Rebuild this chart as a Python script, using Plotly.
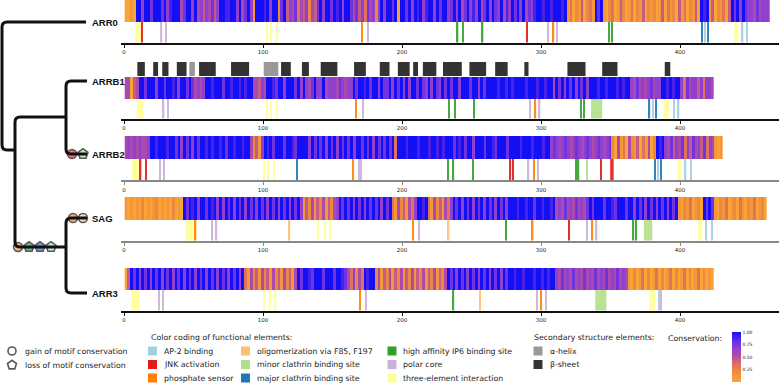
import plotly.graph_objects as go

W, H = 779, 383

# ---------------- data ----------------
rows = ["ARR0", "ARRB1", "ARRB2", "SAG", "ARR3"]

# conservation, one character = 2 residues, '0' -> 0.00 ... '9' -> 1.00
cons_ARR0 = ("0010" "99699799" "97968999579969" "56465746" "998899" "69579619" "9989699279"
             "465735462547" "969979896997" "5746375626" "96997909" "9796989689969799"
             "67969579686957969769586979695768" "99899899989" "1302140231" "979"
             "102301420130214021" "20140312041302140" "989" "14021304" "979697" "66575666")
cons_ARRB1 = ("55045" "99799969979989699797" "5656" "99899979989989899" "55465" "998799699979"
              "696579669" "5666576566" "979989799697" "7969796969979769697697" "9799699979969799"
              "9989989899998999899899" "59796979697969" "99899899989899" "65756567566" "9989899"
              "637566463665")
cons_ARRB2 = ("565656556" "99899989" "9796979697" "998989989799899899" "52416" "989799979987999"
              "9697979697969797969" "979796979797939" "998999899989989899"
              "97989799699979987999799" "9989998999899" "6765676567656765676567"
              "2051305214031502" "989" "657465736475647365" "101")
cons_SAG = ("101010201012010102010" "97989699798969" "69796979697969796979697969796"
            "142514251425" "69797969796979796979" "315241536" "9989" "31524153"
            "697969796979697969796" "99989989979989989" "565756575657" "9799979987999799"
            "6979697969796979" "102130120" "9797" "1021301203102130120")
cons_ARR3 = ("04" "979697969796979697969796979697969796979693" "152415241524152415"
             "979987999799979987" "536253" "9899" "25142514251425142514251425"
             "9796979697969796979697" "99899899989989899" "65756575657565756575657565"
             "1020130201302013020130201302010")
cons = [cons_ARR0, cons_ARRB1, cons_ARRB2, cons_SAG, cons_ARR3]

# functional elements: (residue, width in residues, category)
motif_ARR0 = [(10.3, 4.5, "three"), (13, 1, "jnk"), (27, 1, "polar"), (30, 1, "polar"),
              (103, 1, "three"), (106, 1, "three"), (110, 1, "three"),
              (171, 1, "phos"), (175.5, 1, "polar"),
              (240, 1, "ip6"), (244, 1, "ip6"), (258, 1, "ip6"), (290, 1, "jnk"),
              (305, 1, "polar"), (309, 1, "phos"), (311.5, 1, "polar"),
              (349, 1, "ip6"), (351, 1, "ip6"),
              (416, 1, "major"), (418, 1, "ap2"), (420, 1, "major"),
              (440.5, 3, "three"), (445, 1, "ap2"), (448, 1, "ap2")]
motif_ARRB1 = [(11.5, 5, "three"), (28.5, 1, "polar"), (31.6, 1, "polar"),
               (103, 1, "three"), (106, 1, "three"), (110, 1, "three"),
               (167, 1, "phos"), (172, 1, "polar"),
               (234, 1, "ip6"), (238, 1, "ip6"), (252, 1, "ip6"),
               (292, 1, "polar"), (296, 1, "phos"), (299, 1, "polar"),
               (329, 1, "ip6"), (331, 1, "ip6"), (340, 8, "minor"),
               (378, 1, "major"), (380.5, 1, "ap2"), (382.5, 1, "major"),
               (390, 4, "three"), (395.5, 1, "ap2"), (399, 1, "ap2")]
motif_ARRB2 = [(8.5, 5.5, "three"), (12, 1, "jnk"), (16, 1, "jnk"), (26, 1, "polar"), (29, 1, "polar"),
               (101, 1, "three"), (104, 1, "three"), (108, 1, "three"), (124.5, 1, "major"),
               (165, 1, "phos"), (169, 1, "polar"), (170.5, 1, "polar"),
               (233, 1, "ip6"), (237, 1, "ip6"), (251, 1, "ip6"), (278, 1, "jnk"), (280, 1, "jnk"),
               (291, 1, "polar"), (295, 1, "phos"), (298, 1, "polar"),
               (325, 1, "ip6"), (327, 1, "ip6"), (333, 1, "minor"), (343, 1, "jnk"), (351, 2.5, "jnk"),
               (382, 1, "major"), (384, 1, "ap2"), (386.5, 1, "major"),
               (399.5, 3, "three"), (404, 1, "ap2"), (408, 1, "ap2")]
motif_SAG = [(47, 6, "three"), (51.5, 1, "phos"), (63.5, 1, "polar"), (66.5, 1, "polar"),
             (119, 1, "oligo"), (139.5, 1, "three"), (144.5, 1, "three"), (148.5, 1, "three"),
             (208, 1, "phos"), (212.5, 1, "polar"), (233.5, 1, "oligo"),
             (275, 1, "ip6"), (294, 1, "phos"), (320, 1, "jnk"),
             (333, 1, "polar"), (337, 1, "phos"), (340, 1, "polar"),
             (366.5, 1, "ip6"), (368.5, 1, "ip6"), (377, 6, "minor"),
             (414.5, 3, "three"), (419, 1, "ap2"), (423, 1, "ap2")]
motif_ARR3 = [(8.3, 6, "three"), (25, 1, "polar"), (28, 1, "polar"),
              (101, 1, "three"), (105, 1, "three"), (109, 1, "three"),
              (170, 1, "phos"), (174, 1, "polar"),
              (237, 1, "ip6"), (256, 1, "oligo"),
              (297, 1, "polar"), (300, 1, "phos"), (303.5, 1, "polar"),
              (343, 8, "minor"), (380, 4, "three"), (385, 1, "ap2"), (386.5, 1, "polar")]
motifs = [motif_ARR0, motif_ARRB1, motif_ARRB2, motif_SAG, motif_ARR3]

# secondary structure of ARRB1
ss_start = [9.6, 21, 27.5, 38, 47, 54, 77, 100.5, 113, 128, 141.5, 165.5, 184, 197, 208, 215,
            229.5, 248.5, 267, 288, 319, 344, 389]
ss_end = [15, 24.5, 32, 45, 51, 66, 90, 111, 120, 133, 153.5, 174, 191, 205.5, 211.5, 224.7,
          243, 260.5, 276, 291, 332, 355, 393]
ss_type = ["sheet", "sheet", "sheet", "sheet", "helix", "sheet", "sheet", "helix", "sheet", "sheet",
           "sheet", "sheet", "sheet", "sheet", "sheet", "sheet", "sheet", "sheet", "sheet", "sheet",
           "sheet", "sheet", "sheet"]

func_keys = ["ap2", "jnk", "phos", "oligo", "minor", "major", "ip6", "polar", "three"]
func_labels = ["AP-2 binding", "JNK activation", "phosphate sensor",
               "oligomerization via F85, F197", "minor clathrin binding site", "major clathrin binding site",
               "high affinity IP6 binding site", "polar core", "three-element interaction"]
func_colors = ["#a6cee3", "#e31a1c", "#ff7f00", "#fdbf6f", "#b2df8a", "#1f78b4",
               "#33a02c", "#cab2d6", "#ffff99"]
ss_labels = ["α-helix", "β-sheet"]
ss_colors = {"helix": "#999999", "sheet": "#333333"}

tick_vals = [0, 100, 200, 300, 400]

# ---------------- layout geometry (pixels) ----------------
heat_top = [-2, 77, 136, 197, 268]
heat_bot = [22, 99, 159, 220, 290]
axis_y = [43.5, 119.5, 181, 241.5, 311.5]
axis_col = ["#111111", "#111111", "#888888", "#888888", "#111111"]
label_y = [22, 81, 154, 218, 293]
ss_top, ss_bot = 62, 76
X0PX = 121
XRANGE = [-2.16, 471.2]

cmap = {k: c for k, c in zip(func_keys, func_colors)}
colorscale = [[0.0, "#f9a535"], [0.2, "#f08c3c"], [0.35, "#de7060"], [0.5, "#b4509e"],
              [0.7, "#8a3cd8"], [0.85, "#5a28e8"], [1.0, "#1410f5"]]

fig = go.Figure()

for i, name in enumerate(rows):
    xa = "x" if i == 0 else "x%d" % (i + 1)
    vals = [int(c) / 9 for c in cons[i]]
    edges = [0.5 + 2 * k for k in range(len(vals) + 1)]
    fig.add_trace(go.Heatmap(z=[vals], x=edges, y=[heat_top[i], heat_bot[i]],
                             coloraxis="coloraxis", xaxis=xa, yaxis="y", hoverinfo="skip"))
    m = motifs[i]
    fig.add_trace(go.Bar(x=[p for p, w, c in m], width=[w for p, w, c in m],
                         y=[axis_y[i] - heat_bot[i] - 1.0] * len(m), base=[heat_bot[i]] * len(m),
                         marker=dict(color=[cmap[c] for p, w, c in m], line=dict(width=0)),
                         opacity=0.9, xaxis=xa, yaxis="y", showlegend=False, hoverinfo="skip"))
    if name == "ARRB1":
        fig.add_trace(go.Bar(x=[(a + b) / 2 for a, b in zip(ss_start, ss_end)],
                             width=[b - a for a, b in zip(ss_start, ss_end)],
                             y=[ss_bot - ss_top] * len(ss_start), base=[ss_top] * len(ss_start),
                             marker=dict(color=[ss_colors[t] for t in ss_type], line=dict(width=0)),
                             xaxis=xa, yaxis="y", showlegend=False, hoverinfo="skip"))

# ---------- tree (pixel coordinates on x6/y) ----------
def pth(d):
    return dict(type="path", path=d, xref="x6", yref="y", line=dict(color="#111111", width=3))

shapes = [
    pth("M 86 22 H 7 Q 2 22 2 27 V 145 Q 2 150 7 150 H 15"),
    pth("M 66 117 H 20 Q 15 117 15 122 V 242 Q 15 247 20 247 H 66"),
    pth("M 87 81 H 71 Q 66 81 66 86 V 149 Q 66 154 71 154 H 87"),
    pth("M 87 218 H 71 Q 66 218 66 223 V 288 Q 66 293 71 293 H 87"),
]

node_x = [72, 83, 73, 83, 18, 29, 40, 51]
node_y = [154, 154, 218, 218, 247, 247, 247, 247]
node_sym = ["circle", "pentagon", "circle", "circle", "circle", "pentagon", "pentagon", "pentagon"]
node_col = ["#e8343c", "#a6dba0", "#f28a3a", "#f6c8a4", "#f28a3a", "#3d9a45", "#3c6fd2", "#a8dcea"]
node_size = [9, 10.5, 9, 9, 9, 10.5, 10.5, 10.5]
fig.add_trace(go.Scatter(x=node_x, y=node_y, mode="markers", xaxis="x6", yaxis="y",
                         marker=dict(symbol=node_sym, color=node_col, size=node_size,
                                     line=dict(color="#111111", width=1.5)),
                         showlegend=False, hoverinfo="skip"))

annotations = []
for i, name in enumerate(rows):
    annotations.append(dict(x=90, y=label_y[i], xref="x6", yref="y", text="<b>%s</b>" % name,
                            showarrow=False, xanchor="left", yanchor="middle",
                            font=dict(family="Liberation Sans, Arial", size=9.5, color="#111111")))

# ---------- legends ----------
LF = dict(family="DejaVu Sans", size=7.8, color="#222222")
fig.add_trace(go.Scatter(x=[12, 12], y=[351, 365], mode="markers", xaxis="x6", yaxis="y",
                         marker=dict(symbol=["circle-open", "pentagon-open"], size=[8, 9.5],
                                     color="#111111", line=dict(width=1.6)),
                         showlegend=False, hoverinfo="skip"))
for t, yy in zip(["gain of motif conservation", "loss of motif conservation"], [351, 365]):
    annotations.append(dict(x=23, y=yy, xref="x6", yref="y", text=t, showarrow=False,
                            xanchor="left", yanchor="middle", font=LF))

annotations.append(dict(x=149, y=337, xref="x6", yref="y", text="Color coding of functional elements:",
                        showarrow=False, xanchor="left", yanchor="middle", font=LF))
col_x = [152.5, 245.5, 392]
row_y = [351, 364.5, 378]
sq_x, sq_y = [], []
for k, (lab, col) in enumerate(zip(func_labels, func_colors)):
    cx, cy = col_x[k // 3], row_y[k % 3]
    sq_x.append(cx)
    sq_y.append(cy)
    annotations.append(dict(x=cx + 9, y=cy, xref="x6", yref="y", text=lab, showarrow=False,
                            xanchor="left", yanchor="middle", font=LF))
fig.add_trace(go.Scatter(x=sq_x, y=sq_y, mode="markers", xaxis="x6", yaxis="y",
                         marker=dict(symbol="square", size=9, color=func_colors, line=dict(width=0)),
                         showlegend=False, hoverinfo="skip"))

annotations.append(dict(x=532, y=337, xref="x6", yref="y", text="Secondary structure elements:",
                        showarrow=False, xanchor="left", yanchor="middle", font=LF))
fig.add_trace(go.Scatter(x=[538, 538], y=[351, 364.5], mode="markers", xaxis="x6", yaxis="y",
                         marker=dict(symbol="square", size=9, color=[ss_colors["helix"], ss_colors["sheet"]],
                                     line=dict(width=0)),
                         showlegend=False, hoverinfo="skip"))
for lab, yy in zip(ss_labels, [351, 364.5]):
    annotations.append(dict(x=548, y=yy, xref="x6", yref="y", text=lab, showarrow=False,
                            xanchor="left", yanchor="middle", font=LF))
annotations.append(dict(x=666, y=338, xref="x6", yref="y", text="Conservation:",
                        showarrow=False, xanchor="left", yanchor="middle", font=LF))

# ---------- axes ----------
layout = dict(
    width=W, height=H, margin=dict(l=0, r=0, t=0, b=0),
    paper_bgcolor="white", plot_bgcolor="rgba(0,0,0,0)",
    barmode="overlay", showlegend=False,
    shapes=shapes, annotations=annotations,
    yaxis=dict(domain=[0, 1], range=[H, 0], visible=False, fixedrange=True),
    xaxis6=dict(domain=[0, 1], range=[0, W], visible=False, anchor="y"),
    coloraxis=dict(colorscale=colorscale, cmin=0, cmax=1,
                   colorbar=dict(x=732 / W, xanchor="left", xref="paper", xpad=0, ypad=0,
                                 y=1 - 357 / H, yanchor="middle", len=50 / H, lenmode="fraction",
                                 thickness=9, thicknessmode="pixels", outlinewidth=0,
                                 tickvals=[0, 0.25, 0.5, 0.75, 1],
                                 ticktext=["0.00", "0.25", "0.50", "0.75", "1.00"],
                                 ticks="", tickfont=dict(family="DejaVu Sans", size=4.5, color="#222"))),
)
for i in range(5):
    key = "xaxis" if i == 0 else "xaxis%d" % (i + 1)
    layout[key] = dict(domain=[X0PX / W, 1], range=XRANGE, anchor="free", position=1 - axis_y[i] / H,
                       showline=True, linecolor=axis_col[i], linewidth=2, ticks="outside", ticklen=3,
                       tickwidth=1, tickcolor=axis_col[i], tickvals=tick_vals, showgrid=False,
                       zeroline=False, side="bottom",
                       tickfont=dict(family="DejaVu Sans", size=5.5, color="#222"))
fig.update_layout(**layout)

fig.write_html("out.html", config={"displayModeBar": False},
               post_script="document.body.style.margin='0';document.body.style.overflow='hidden';")
